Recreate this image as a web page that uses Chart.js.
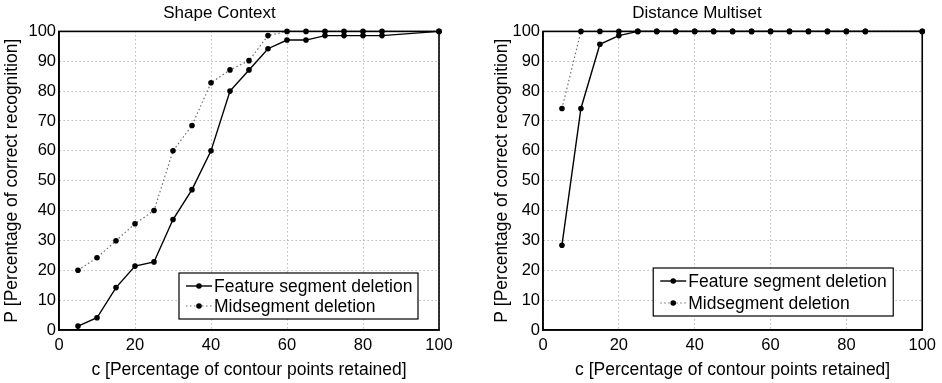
<!DOCTYPE html>
<html>
<head>
<meta charset="utf-8">
<script src="https://cdn.jsdelivr.net/npm/chart.js@4.4.1/dist/chart.umd.min.js"></script>
<style>
  html, body { margin: 0; padding: 0; background: #fff; }
  #wrap { position: relative; width: 942px; height: 383px; }
  canvas { position: absolute; top: 0; }
  #left { left: 0; }
  #right { left: 471px; }
</style>
</head>
<body>
<div id="wrap">
  <canvas id="left" width="471" height="383"></canvas>
  <canvas id="right" width="471" height="383"></canvas>
</div>
<script>
// --- Data ---
const retained = [5, 10, 15, 20, 25, 30, 35, 40, 45, 50, 55, 60, 65, 70, 75, 80, 85, 100];

// Shape Context
const scFeature = [1.3, 4.1, 14.2, 21.4, 22.8, 37.0, 47.0, 60.0, 80.0, 87.1, 94.2, 97.1, 97.1, 98.6, 98.6, 98.6, 98.6, 100];
const scMidseg = [20.0, 24.2, 29.9, 35.6, 40.0, 60.0, 68.5, 82.8, 87.1, 90.2, 98.6, 100, 100, 100, 100, 100, 100, 100];

// Distance Multiset
const dmFeature = [28.4, 74.2, 95.7, 98.6, 100, 100, 100, 100, 100, 100, 100, 100, 100, 100, 100, 100, 100, 100];
const dmMidseg = [74.2, 100, 100, 100, 100, 100, 100, 100, 100, 100, 100, 100, 100, 100, 100, 100, 100, 100];

const seriesLabels = ["Feature segment deletion", "Midsegment deletion"];
const xTicks = [0, 20, 40, 60, 80, 100];
const yTicks = [0, 10, 20, 30, 40, 50, 60, 70, 80, 90, 100];

const FONT = "'Liberation Sans', Arial, Helvetica, sans-serif";

const toPoints = (ys) => retained.map((x, i) => ({ x: x, y: ys[i] }));

// Black box around the axes plus the in-plot legend (MATLAB look)
const frameLegend = {
  id: "frameLegend",
  afterDatasetsDraw(chart, args, opts) {
    const { ctx, chartArea: a } = chart;
    ctx.save();
    ctx.strokeStyle = "#000";
    ctx.lineWidth = 1.6;
    ctx.setLineDash([]);
    ctx.strokeRect(a.left, a.top, a.right - a.left, a.bottom - a.top);

    // legend box
    const w = opts.width, h = opts.height;
    const bx = a.right - opts.right - w;
    const by = a.bottom - opts.bottom - h;
    ctx.fillStyle = "#fff";
    ctx.fillRect(bx, by, w, h);
    ctx.lineWidth = 1.2;
    ctx.strokeRect(bx, by, w, h);

    ctx.font = "17.5px " + FONT;
    ctx.textBaseline = "middle";
    ctx.textAlign = "left";
    chart.data.datasets.forEach((ds, i) => {
      const y = by + opts.rowTop + i * opts.rowGap;
      const x0 = bx + 7;
      const x1 = x0 + 26;
      ctx.beginPath();
      ctx.strokeStyle = ds.borderColor;
      ctx.lineWidth = ds.borderWidth;
      ctx.setLineDash(ds.borderDash || []);
      ctx.moveTo(x0, y);
      ctx.lineTo(x1, y);
      ctx.stroke();
      ctx.setLineDash([]);
      ctx.beginPath();
      ctx.fillStyle = "#000";
      ctx.arc((x0 + x1) / 2, y, 2.8, 0, Math.PI * 2);
      ctx.fill();
      ctx.fillStyle = "#000";
      ctx.fillText(ds.label, x1 + 2, y + 1);
    });
    ctx.restore();
  },
};

function makeChart(id, title, feature, midseg, yAxisWidth, rightPad, yTitleOffset, legendOpts) {
  return new Chart(document.getElementById(id), {
    type: "line",
    data: {
      datasets: [
        {
          label: seriesLabels[0],
          data: toPoints(feature),
          borderColor: "#000",
          borderWidth: 1.4,
          pointRadius: 2.8,
          pointBackgroundColor: "#000",
          pointBorderWidth: 0,
          tension: 0,
        },
        {
          label: seriesLabels[1],
          data: toPoints(midseg),
          borderColor: "#6e6e6e",
          borderWidth: 1.2,
          borderDash: [1.5, 2.5],
          pointRadius: 2.8,
          pointBackgroundColor: "#000",
          pointBorderWidth: 0,
          tension: 0,
        },
      ],
    },
    options: {
      responsive: false,
      animation: false,
      clip: false,
      layout: { autoPadding: false, padding: { left: 0, top: 0, bottom: 0, right: rightPad } },
      plugins: {
        legend: { display: false },
        tooltip: { enabled: false },
        title: {
          display: true,
          text: title,
          color: "#000",
          font: { family: FONT, size: 17, weight: "normal" },
          padding: { top: 3, bottom: 8 },
        },
        frameLegend: legendOpts,
      },
      scales: {
        x: {
          type: "linear",
          min: 0,
          max: 100,
          afterFit: (s) => { s.height = 53; },
          afterBuildTicks: (s) => { s.ticks = xTicks.map((v) => ({ value: v })); },
          ticks: { color: "#000", padding: 6, font: { family: FONT, size: 16.5 }, maxRotation: 0 },
          grid: { color: "#999", lineWidth: 1, drawTicks: false },
          border: { display: true, color: "#000", width: 1.6, dash: [1, 3] },
          title: {
            display: true,
            text: "c [Percentage of contour points retained]",
            color: "#000",
            font: { family: FONT, size: 17.5 },
            padding: { top: 0, bottom: 2 },
          },
        },
        y: {
          type: "linear",
          min: 0,
          max: 100,
          afterFit: (s) => { s.width = yAxisWidth; },
          afterBuildTicks: (s) => { s.ticks = yTicks.map((v) => ({ value: v })); },
          ticks: { color: "#000", padding: 3, font: { family: FONT, size: 16.5 } },
          grid: { color: "#999", lineWidth: 1, drawTicks: false },
          border: { display: true, color: "#000", width: 1.6, dash: [1, 3] },
          title: {
            display: true,
            text: "P [Percentage of correct recognition]",
            color: "#000",
            font: { family: FONT, size: 17.5 },
            padding: { top: yTitleOffset, bottom: 0 },
          },
        },
      },
    },
    plugins: [frameLegend],
  });
}

makeChart("left", "Shape Context", scFeature, scMidseg, 59, 32, 2,
  { width: 239, height: 46, right: 21, bottom: 11, rowTop: 13, rowGap: 20 });
makeChart("right", "Distance Multiset", dmFeature, dmMidseg, 72, 19, 21,
  { width: 240, height: 48, right: 29, bottom: 14, rowTop: 13, rowGap: 22 });
</script>
</body>
</html>
